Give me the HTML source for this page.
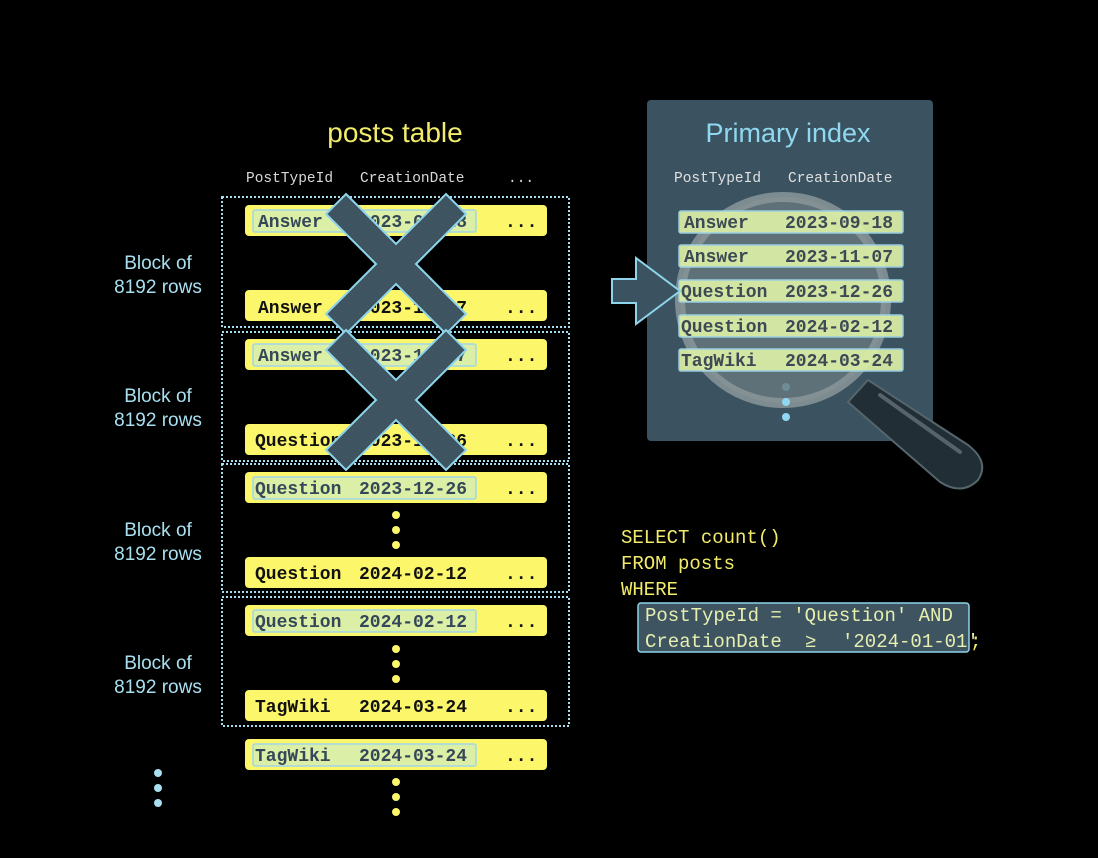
<!DOCTYPE html>
<html><head><meta charset="utf-8"><style>
html,body{margin:0;padding:0;background:#000;}
svg{display:block}
.m{font-family:"Liberation Mono","DejaVu Sans Mono",monospace}
.s{font-family:"Liberation Sans","DejaVu Sans",sans-serif}
</style></head><body>
<svg width="1098" height="858" viewBox="0 0 1098 858" xmlns="http://www.w3.org/2000/svg">
<rect width="1098" height="858" fill="#000"/>
<text x="395" y="142" text-anchor="middle" class="s" font-size="28" fill="#f2ec6a">posts table</text>
<g class="m" font-size="14.5" fill="#d8d8d8">
<text x="246" y="182">PostTypeId</text><text x="360" y="182">CreationDate</text><text x="508" y="182">...</text>
</g>
<g fill="none" stroke="#a6dcef" stroke-width="2" stroke-dasharray="2,2">
<rect x="222" y="197" width="347" height="130"/>
<rect x="222" y="332" width="347" height="129"/>
<rect x="222" y="464" width="347" height="128"/>
<rect x="222" y="597" width="347" height="129"/>
</g>
<g class="s" font-size="19" fill="#a8e0f0" text-anchor="middle">
<text x="158" y="269">Block of</text><text x="158" y="293">8192 rows</text>
<text x="158" y="402">Block of</text><text x="158" y="426">8192 rows</text>
<text x="158" y="536">Block of</text><text x="158" y="560">8192 rows</text>
<text x="158" y="669">Block of</text><text x="158" y="693">8192 rows</text>
</g>
<g fill="#fbf66a">
<rect x="245" y="205" width="302" height="31" rx="4"/>
<rect x="245" y="290" width="302" height="31" rx="4"/>
<rect x="245" y="339" width="302" height="31" rx="4"/>
<rect x="245" y="424" width="302" height="31" rx="4"/>
<rect x="245" y="472" width="302" height="31" rx="4"/>
<rect x="245" y="557" width="302" height="31" rx="4"/>
<rect x="245" y="605" width="302" height="31" rx="4"/>
<rect x="245" y="690" width="302" height="31" rx="4"/>
<rect x="245" y="739" width="302" height="31" rx="4"/>
</g>
<g fill="#dcefa6" stroke="#9fd6ea" stroke-width="1.5">
<rect x="253" y="210" width="223" height="22" rx="2"/>
<rect x="253" y="344" width="223" height="22" rx="2"/>
<rect x="253" y="477" width="223" height="22" rx="2"/>
<rect x="253" y="610" width="223" height="22" rx="2"/>
<rect x="253" y="744" width="223" height="22" rx="2"/>
</g>
<g class="m" font-size="18" font-weight="bold">
<g fill="#34485a">
<text x="258" y="227">Answer</text><text x="359" y="227">2023-09-18</text>
<text x="258" y="361">Answer</text><text x="359" y="361">2023-11-07</text>
<text x="255" y="494">Question</text><text x="359" y="494">2023-12-26</text>
<text x="255" y="627">Question</text><text x="359" y="627">2024-02-12</text>
<text x="255" y="761">TagWiki</text><text x="359" y="761">2024-03-24</text>
</g>
<g fill="#111">
<text x="258" y="313">Answer</text><text x="359" y="313">2023-11-07</text>
<text x="255" y="446">Question</text><text x="359" y="446">2023-12-26</text>
<text x="255" y="579">Question</text><text x="359" y="579">2024-02-12</text>
<text x="255" y="712">TagWiki</text><text x="359" y="712">2024-03-24</text>
<text x="505" y="227">...</text><text x="505" y="313">...</text><text x="505" y="361">...</text><text x="505" y="446">...</text><text x="505" y="494">...</text><text x="505" y="579">...</text><text x="505" y="627">...</text><text x="505" y="712">...</text><text x="505" y="761">...</text>
</g>
</g>
<g fill="#fbf66a">
<circle cx="396" cy="515" r="4"/><circle cx="396" cy="530" r="4"/><circle cx="396" cy="545" r="4"/>
<circle cx="396" cy="649" r="4"/><circle cx="396" cy="664" r="4"/><circle cx="396" cy="679" r="4"/>
<circle cx="396" cy="782" r="4"/><circle cx="396" cy="797" r="4"/><circle cx="396" cy="812" r="4"/>
</g>
<g fill="#a8e0f0"><circle cx="158" cy="773" r="4"/><circle cx="158" cy="788" r="4"/><circle cx="158" cy="803" r="4"/></g>
<g fill="#3e5461" stroke="#8ed4ea" stroke-width="2">
<path d="M346,194 L396,244 L446,194 L466,214 L416,264 L466,314 L446,334 L396,284 L346,334 L326,314 L376,264 L326,214 Z"/>
<path d="M346,330 L396,380 L446,330 L466,350 L416,400 L466,450 L446,470 L396,420 L346,470 L326,450 L376,400 L326,350 Z"/>
</g>
<!-- index panel -->
<rect x="647" y="100" width="286" height="341" rx="4" fill="#3b5260"/>
<text x="788" y="142" text-anchor="middle" class="s" font-size="27" fill="#8fd8f0">Primary index</text>
<g class="m" font-size="14.5" fill="#e0e0e0"><text x="674" y="182">PostTypeId</text><text x="788" y="182">CreationDate</text></g>
<!-- magnifier handle -->
<path d="M868,380 L968,445 Q990,462 978,480 Q962,496 940,482 L848,402 Z" fill="#222e35" stroke="#55656c" stroke-width="2"/>
<path d="M880,395 L960,452" stroke="#6c7a82" stroke-width="4" stroke-linecap="round" opacity="0.7"/>
<circle cx="783" cy="300" r="103" fill="#7d8a8c" opacity="0.55"/>
<circle cx="783" cy="300" r="103" fill="none" stroke="#8a969a" stroke-width="10" opacity="0.85"/>
<g fill="#dcefa6" stroke="#9fd6ea" stroke-width="1.5" opacity="0.92">
<rect x="679" y="211" width="224" height="22" rx="2"/>
<rect x="679" y="245" width="224" height="22" rx="2"/>
<rect x="679" y="280" width="224" height="22" rx="2"/>
<rect x="679" y="315" width="224" height="22" rx="2"/>
<rect x="679" y="349" width="224" height="22" rx="2"/>
</g>
<g class="m" font-size="18" font-weight="bold" fill="#3d4a55">
<text x="684" y="228">Answer</text><text x="785" y="228">2023-09-18</text>
<text x="684" y="262">Answer</text><text x="785" y="262">2023-11-07</text>
<text x="681" y="297">Question</text><text x="785" y="297">2023-12-26</text>
<text x="681" y="332">Question</text><text x="785" y="332">2024-02-12</text>
<text x="681" y="366">TagWiki</text><text x="785" y="366">2024-03-24</text>
</g>
<circle cx="786" cy="387" r="4" fill="#6f8b98"/><circle cx="786" cy="402" r="4" fill="#8fd8f0"/><circle cx="786" cy="417" r="4" fill="#8fd8f0"/>
<path d="M612,279 L636,279 L636,258 L680,291 L636,324 L636,303 L612,303 Z" fill="#3b5260" stroke="#8ed4ea" stroke-width="2"/>
<!-- SQL -->
<rect x="638" y="603" width="331" height="49" rx="3" fill="#3e5461" stroke="#8ed4ea" stroke-width="1.5"/>
<g class="m" font-size="19" fill="#f2ec6a">
<text x="621" y="543">SELECT count()</text>
<text x="621" y="569">FROM posts</text>
<text x="621" y="595">WHERE</text>
<text x="645" y="621" fill="#e6efb0">PostTypeId = 'Question' AND</text>
<text x="645" y="647" fill="#e6efb0">CreationDate</text><text x="805" y="647" fill="#e6efb0">≥</text><text x="842" y="647" fill="#e6efb0">'2024-01-01'</text>
<text x="970" y="647">;</text>
</g>
</svg>
</body></html>
